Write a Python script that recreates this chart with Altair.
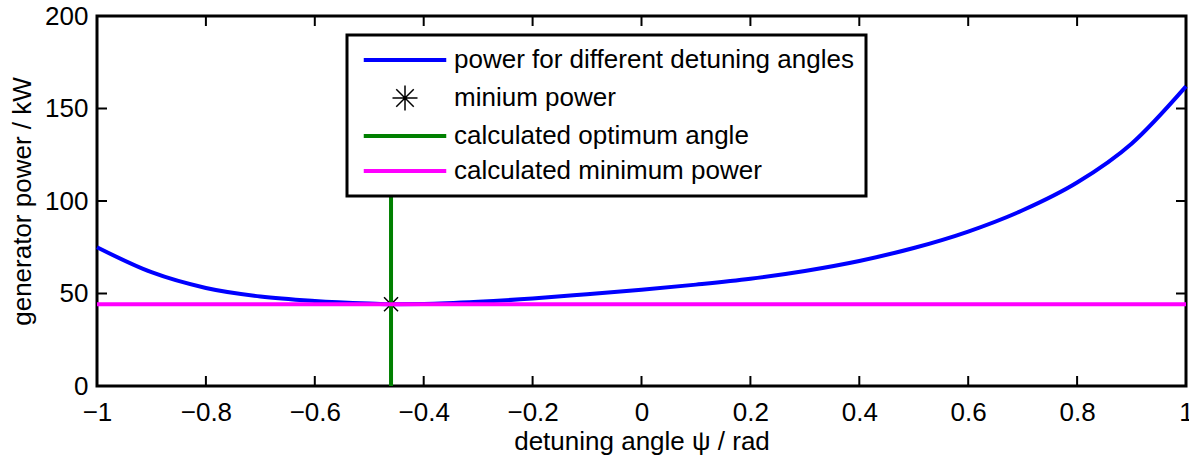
import altair as alt
import pandas as pd

FONT = "Liberation Sans"
FS = 26

# ---- data ----
psi = [-1.0, -0.9, -0.8, -0.7, -0.6, -0.5, -0.46, -0.4, -0.3, -0.2, -0.1, 0.0,
       0.1, 0.2, 0.3, 0.4, 0.5, 0.6, 0.7, 0.8, 0.9, 1.0]
power = [75.0, 61.5, 53.0, 48.4, 46.0, 44.6, 44.2, 44.35, 45.5, 47.3, 49.6, 52.0,
         54.8, 58.0, 62.2, 67.6, 74.6, 83.5, 95.0, 110.0, 131.0, 162.0]

opt_psi = -0.46
min_power = 44.2

series = ["power for different detuning angles", "minium power",
          "calculated optimum angle", "calculated minimum power"]
colors = ["#0000ff", "#000000", "#008000", "#ff00ff"]

xticks = [-1, -0.8, -0.6, -0.4, -0.2, 0, 0.2, 0.4, 0.6, 0.8, 1]
yticks = [0, 50, 100, 150, 200]

LINE_PATH = "M-3.3,0L3.3,0"
STAR_PATH = "M-1,0L1,0M0,-1L0,1M-0.7,-0.7L0.7,0.7M-0.7,0.7L0.7,-0.7"
shapes = [LINE_PATH, STAR_PATH, LINE_PATH, LINE_PATH]

W, H = 1089, 370

curve_df = pd.DataFrame({"psi": psi, "power": power, "series": series[0]})
min_df = pd.DataFrame({"psi": [opt_psi], "power": [min_power], "series": [series[1]]})
green_df = pd.DataFrame({"psi": [opt_psi, opt_psi], "power": [0, 150], "series": [series[2]] * 2})
mag_df = pd.DataFrame({"psi": [-1, 1], "power": [min_power, min_power], "series": [series[3]] * 2})
xt_df = pd.DataFrame({"psi": xticks})
yt_df = pd.DataFrame({"power": yticks})

legend = alt.Legend(
    title=None, orient="none", legendX=250, legendY=19,
    fillColor="white", strokeColor="black", padding=12,
    labelFont=FONT, labelFontSize=FS, labelColor="black", labelLimit=0,
    symbolSize=625, symbolOffset=33, labelOffset=36, rowPadding=9,
    symbolFillColor="transparent",
    symbolStrokeColor=alt.ExprRef(expr="scale('color', datum.value)"),
    symbolStrokeWidth=alt.ExprRef(expr="datum.value === 'minium power' ? 1.5 : 4"),
)

color = alt.Color("series:N", scale=alt.Scale(domain=series, range=colors), legend=legend)

xscale = alt.Scale(domain=[-1, 1], nice=False, zero=False)
yscale = alt.Scale(domain=[0, 200], nice=False, zero=False)

xaxis = alt.Axis(values=xticks, format="~g", ticks=False, tickSize=0, domain=False, grid=False,
                 labelPadding=13, labelFlush=False, title="detuning angle ψ / rad", titlePadding=3)
yaxis = alt.Axis(values=yticks, format="d", ticks=False, tickSize=0, domain=False, grid=False,
                 labelPadding=9, labelFlush=False, title="generator power / kW", titlePadding=9)

X = alt.X("psi:Q", scale=xscale, axis=xaxis)
Y = alt.Y("power:Q", scale=yscale, axis=yaxis)

curve = alt.Chart(curve_df).mark_line(strokeWidth=4, interpolate="monotone").encode(
    x=X, y=Y, color=color)

star = alt.Chart(min_df).mark_point(filled=False, size=400, strokeWidth=1.5, opacity=1).encode(
    x=X, y=Y, color=color,
    shape=alt.Shape("series:N", scale=alt.Scale(domain=series, range=shapes), legend=legend),
)

green = alt.Chart(green_df).mark_line(strokeWidth=4).encode(x=X, y=Y, color=color)
magenta = alt.Chart(mag_df).mark_line(strokeWidth=4).encode(x=X, y=Y, color=color)

tick_style = dict(color="black", strokeWidth=2)
xt_bottom = alt.Chart(xt_df).mark_rule(**tick_style).encode(
    x=X, y=alt.value(H), y2=alt.value(H - 10))
xt_top = alt.Chart(xt_df).mark_rule(**tick_style).encode(
    x=X, y=alt.value(0), y2=alt.value(10))
yt_left = alt.Chart(yt_df).mark_rule(**tick_style).encode(
    y=Y, x=alt.value(0), x2=alt.value(10))
yt_right = alt.Chart(yt_df).mark_rule(**tick_style).encode(
    y=Y, x=alt.value(W), x2=alt.value(W - 10))

chart = alt.layer(
    curve, star, green, magenta, xt_bottom, xt_top, yt_left, yt_right
).properties(
    width=W, height=H,
    autosize=alt.AutoSizeParams(type="none"),
    padding={"left": 97, "top": 16, "right": 3, "bottom": 73},
    background="white",
).configure_view(
    stroke="black", strokeWidth=3
).configure_axis(
    labelFont=FONT, labelFontSize=FS, labelColor="black",
    titleFont=FONT, titleFontSize=FS, titleColor="black", titleFontWeight="normal",
).configure_legend(
    strokeWidth=3
)

chart.save("out.html", embed_options={"renderer": "svg", "actions": False})
